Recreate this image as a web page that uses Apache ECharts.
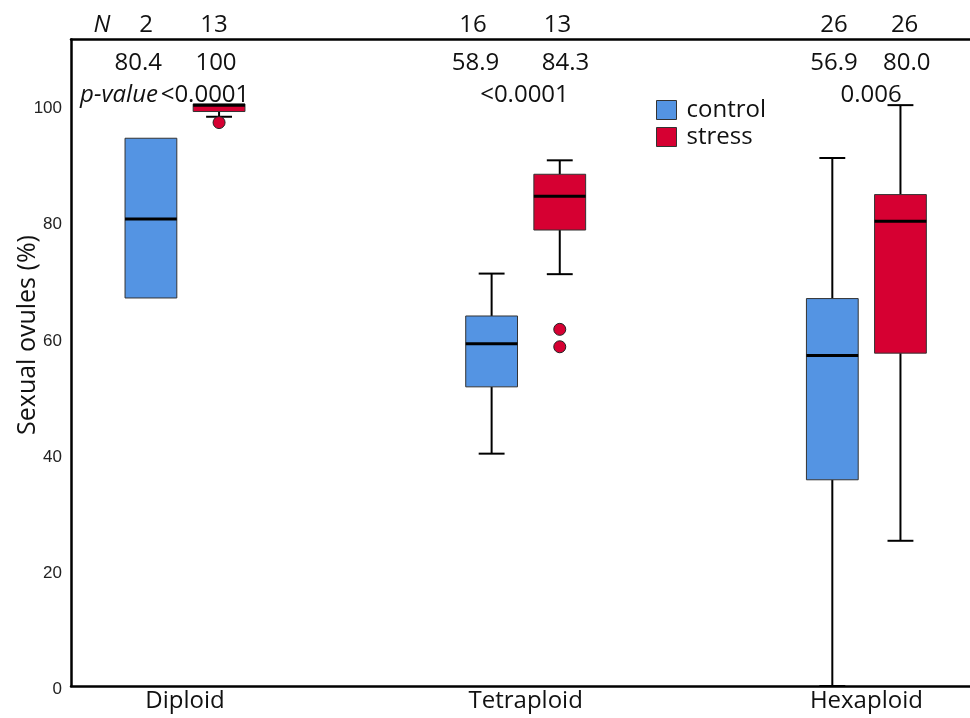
<!DOCTYPE html>
<html>
<head>
<meta charset="utf-8">
<script src="https://cdn.jsdelivr.net/npm/echarts@6/dist/echarts.min.js"></script>
<style>
  html, body { margin: 0; padding: 0; background: #fff; }
  #chart { width: 970px; height: 718px; }
</style>
</head>
<body>
<div id="chart"></div>
<script>
// ---- data ----
const groups = ['Diploid', 'Tetraploid', 'Hexaploid'];
// five-number summaries: [lower whisker, Q1, median, Q3, upper whisker]
const controlStats = [
  [66.8, 66.8, 80.4, 94.3, 94.3],
  [40.0, 51.5, 58.9, 63.7, 71.0],
  [0.0, 35.5, 56.9, 66.7, 90.9]
];
const stressStats = [
  [98.0, 98.9, 100, 100.2, 100.2],
  [70.9, 78.5, 84.3, 88.1, 90.5],
  [25.0, 57.3, 80.0, 84.6, 100.0]
];
// outliers: [group index, value]
const controlOutliers = [];
const stressOutliers = [[0, 97.0], [1, 61.4], [1, 58.4]];
const controlN = [2, 16, 26];
const stressN = [13, 13, 26];
const controlMedianText = ['80.4', '58.9', '56.9'];
const stressMedianText = ['100', '84.3', '80.0'];
const pValues = ['<0.0001', '<0.0001', '0.006'];
const yTicks = [0, 20, 40, 60, 80, 100];

// ---- layout ----
const FONT = '"Open Sans", "Noto Sans", sans-serif';
const BLUE = '#5494e3';
const RED = '#d60032';
const BOX_OFFSET = 0.1;     // half distance between paired boxes (axis units)
const BOX_FRAC = 0.152;     // box width as a fraction of one group step
const X_MIN = 0.6654, X_MAX = 3.3188;
const Y_MAX = 111.3;
// header rows above the boxes (y in axis units)
const ROW_N = 113.8, ROW_MED = 107.2, ROW_P = 101.8;
// horizontal anchors of header texts per group (axis units)
const nPosControl = [0.8855, 1.8453, 2.9049];
const nPosStress = [1.0851, 2.0934, 3.1122];
const medPosControl = [0.8629, 1.8530, 2.9049];
const medPosStress = [1.0910, 2.1171, 3.1183];
const pPos = [1.0587, 1.9965, 3.0136];

const annotations = [
  { x: 0.7564, y: ROW_N, text: 'N', italic: true },
  { x: 0.8063, y: ROW_P, text: 'p-value', italic: true }
];
groups.forEach((g, i) => {
  annotations.push({ x: nPosControl[i], y: ROW_N, text: String(controlN[i]) });
  annotations.push({ x: nPosStress[i], y: ROW_N, text: String(stressN[i]) });
  annotations.push({ x: medPosControl[i], y: ROW_MED, text: controlMedianText[i] });
  annotations.push({ x: medPosStress[i], y: ROW_MED, text: stressMedianText[i] });
  annotations.push({ x: pPos[i], y: ROW_P, text: pValues[i] });
});

function boxSeries(name, stats, offset, color) {
  return {
    type: 'custom',
    name: name,
    itemStyle: { color: color },
    data: stats.map((s, i) => [i + 1 + offset].concat(s)),
    encode: { x: 0, y: [1, 2, 3, 4, 5] },
    renderItem: function (params, api) {
      const x = api.value(0);
      const step = api.size([1, 0])[0];
      const w = step * BOX_FRAC;
      const capW = w / 2;
      const p = k => api.coord([x, api.value(k)]);
      const lo = p(1), q1 = p(2), med = p(3), q3 = p(4), hi = p(5);
      const cx = q1[0];
      const whisker = { stroke: '#000', lineWidth: 2 };
      const children = [];
      if (hi[1] < q3[1] - 0.5) {
        children.push({ type: 'line', shape: { x1: cx, y1: q3[1], x2: cx, y2: hi[1] }, style: whisker });
        children.push({ type: 'line', shape: { x1: cx - capW / 2, y1: hi[1], x2: cx + capW / 2, y2: hi[1] }, style: whisker });
      }
      if (lo[1] > q1[1] + 0.5) {
        children.push({ type: 'line', shape: { x1: cx, y1: q1[1], x2: cx, y2: lo[1] }, style: whisker });
        children.push({ type: 'line', shape: { x1: cx - capW / 2, y1: lo[1], x2: cx + capW / 2, y2: lo[1] }, style: whisker });
      }
      children.push({
        type: 'rect',
        shape: { x: cx - w / 2, y: q3[1], width: w, height: q1[1] - q3[1] },
        style: { fill: color, stroke: '#333', lineWidth: 1 }
      });
      children.push({
        type: 'line',
        shape: { x1: cx - w / 2, y1: med[1], x2: cx + w / 2, y2: med[1] },
        style: { stroke: '#000', lineWidth: 3 }
      });
      return { type: 'group', children: children };
    }
  };
}

function outlierSeries(list, offset, color) {
  return {
    type: 'scatter',
    data: list.map(([g, v]) => [g + 1 + offset, v]),
    symbol: 'circle',
    symbolSize: 12,
    itemStyle: { color: color, borderColor: '#222', borderWidth: 1, opacity: 1 },
    z: 3
  };
}

const chart = echarts.init(document.getElementById('chart'), null, { renderer: 'canvas' });
chart.setOption({
  animation: false,
  backgroundColor: '#fff',
  grid: { left: 71, right: -5, top: 39.5, bottom: 32, outerBoundsMode: 'none' },
  xAxis: [
    {
      type: 'value', min: X_MIN, max: X_MAX,
      axisLine: { show: true, lineStyle: { color: '#000', width: 2.5 } },
      axisTick: { show: false },
      splitLine: { show: false },
      axisLabel: {
        customValues: groups.map((g, i) => i + 1),
        formatter: v => groups[Math.round(v) - 1] || '',
        fontFamily: FONT, fontSize: 24, color: '#111', margin: 3
      }
    },
    {
      type: 'value', min: X_MIN, max: X_MAX, position: 'top',
      axisLine: { show: true, lineStyle: { color: '#000', width: 2.5 } },
      axisTick: { show: false }, splitLine: { show: false }, axisLabel: { show: false }
    }
  ],
  yAxis: {
    type: 'value', min: 0, max: Y_MAX, interval: 20,
    axisLine: { show: true, lineStyle: { color: '#000', width: 2.5 } },
    axisTick: { show: false },
    splitLine: { show: false },
    axisLabel: {
      customValues: yTicks,
      fontFamily: '"Liberation Sans", Arial, sans-serif', fontSize: 17, color: '#222',
      margin: 9, verticalAlign: 'top', lineHeight: 7
    }
  },
  legend: {
    orient: 'vertical', left: 656, top: 98, padding: 0,
    itemWidth: 20, itemHeight: 19, itemGap: 3, icon: 'rect',
    selectedMode: false,
    textStyle: { fontFamily: FONT, fontSize: 24, color: '#111', padding: [0, 0, 0, 5] },
    data: [
      { name: 'control', itemStyle: { color: BLUE, borderColor: '#333', borderWidth: 1 } },
      { name: 'stress', itemStyle: { color: RED, borderColor: '#333', borderWidth: 1 } }
    ]
  },
  graphic: [{
    type: 'text', x: 28, y: 335, rotation: Math.PI / 2,
    style: { text: 'Sexual ovules (%)', font: '25px ' + FONT, fill: '#111', align: 'center', verticalAlign: 'middle' }
  }],
  series: [
    boxSeries('control', controlStats, -BOX_OFFSET, BLUE),
    boxSeries('stress', stressStats, BOX_OFFSET, RED),
    outlierSeries(controlOutliers, -BOX_OFFSET, BLUE),
    outlierSeries(stressOutliers, BOX_OFFSET, RED),
    {
      type: 'custom',
      data: annotations.map(a => [a.x, a.y]),
      encode: { x: 0, y: 1 },
      z: 5,
      renderItem: function (params, api) {
        const a = annotations[params.dataIndex];
        const pt = api.coord([a.x, a.y]);
        return {
          type: 'text', x: pt[0], y: pt[1],
          style: {
            text: a.text, fontFamily: FONT, fontSize: 24,
            fontStyle: a.italic ? 'italic' : 'normal',
            fill: '#111', align: 'center', verticalAlign: 'middle'
          }
        };
      }
    }
  ]
});
</script>
</body>
</html>
